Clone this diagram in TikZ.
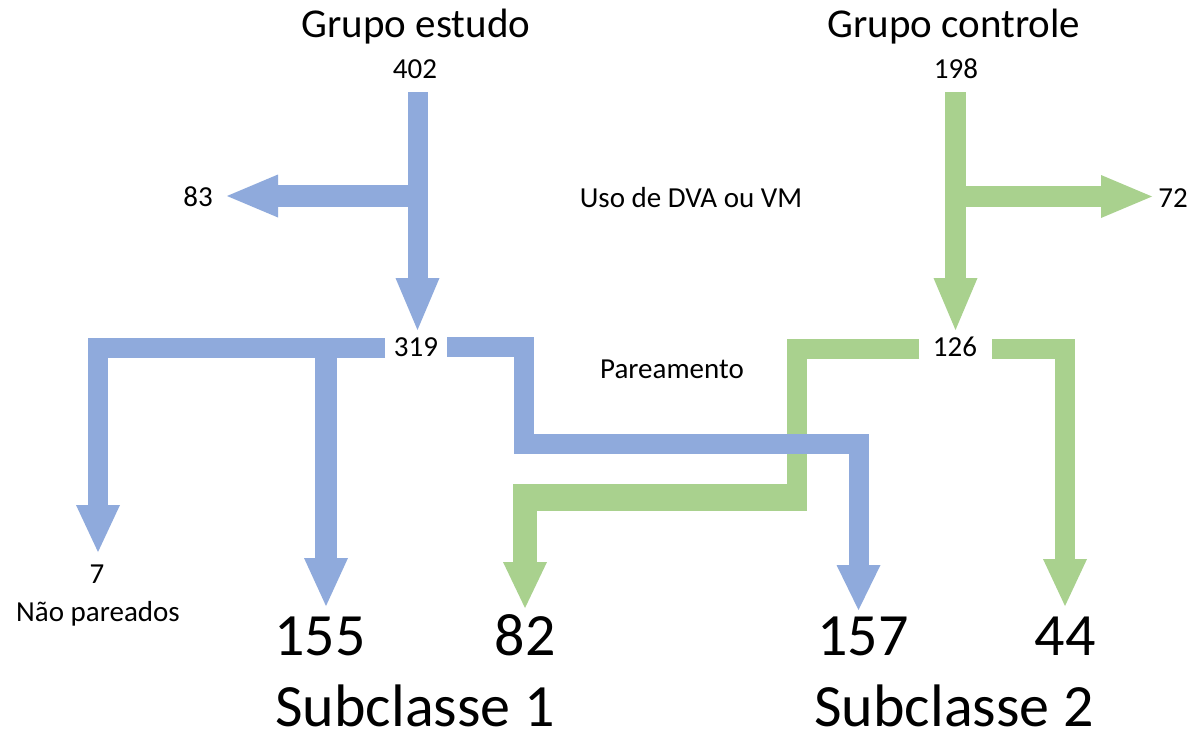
\documentclass[tikz,border=0pt]{standalone}
\usepackage{fontspec}
\setmainfont{Carlito}
\usetikzlibrary{calc}
\definecolor{flowblue}{HTML}{8FAADC}
\definecolor{flowgreen}{HTML}{A9D18E}
\tikzset{
  lbl/.style={anchor=base, inner sep=0pt, font=\fontsize{29}{34}\selectfont},
  grouptitle/.style={anchor=base, inner sep=0pt, font=\fontsize{41}{48}\selectfont},
  bignum/.style={anchor=base, inner sep=0pt, font=\fontsize{60}{70}\selectfont},
  shaft/.style={line width=20pt, line cap=butt, line join=miter},
}
% block arrow heads: colour, tip, head length (y axis points down)
\newcommand\flowtipdown[3]{\fill[#1] ($(#2)+(-22,-#3)$) -- (#2) -- ($(#2)+(22,-#3)$) -- cycle;}
\newcommand\flowtipleft[3]{\fill[#1] ($(#2)+(#3,-21.5)$) -- (#2) -- ($(#2)+(#3,21.5)$) -- cycle;}
\newcommand\flowtipright[3]{\fill[#1] ($(#2)+(-#3,-21.5)$) -- (#2) -- ($(#2)+(-#3,21.5)$) -- cycle;}

\begin{document}
\begin{tikzpicture}[x=1pt,y=-1pt]
\fill[white] (0,0) rectangle (1198,736);
\useasboundingbox (0,0) rectangle (1198,736);

% ---------- labels ----------
\node[grouptitle] (grpE) at (416,37) {Grupo estudo};
\node[grouptitle] (grpC) at (954,37) {Grupo controle};
\node[lbl] (n402) at (415,78) {402};
\node[lbl] (n198) at (956,78) {198};
\node[lbl] (n83) at (198,206) {83};
\node[lbl] (n72) at (1173,207) {72};
\node[lbl] (uso) at (691,207) {Uso de DVA ou VM};
\node[lbl] (n319) at (416,356) {319};
\node[lbl] (n126) at (955,356) {126};
\node[lbl] (par) at (672,378) {Pareamento};
\node[lbl] (n7) at (97,583) {7};
\node[lbl] (nao) at (98,621) {Não pareados};
\node[bignum] (n155) at (320,655) {155};
\node[bignum] (n82) at (525,655) {82};
\node[bignum] (n157) at (863,655) {157};
\node[bignum] (n44) at (1065,655) {44};
\node[bignum] (sub1) at (415,726) {Subclasse 1};
\node[bignum] (sub2) at (954,726) {Subclasse 2};

% ---------- control group (green) ----------
\coordinate (gTop) at (955.5,92);
\coordinate (gSplit) at (955.5,196.5);
\coordinate (gTip126) at (955.5,330);
\coordinate (gTip72) at (1152,196.5);
\draw[shaft,flowgreen,line width=21pt] (gTop) -- ($(gTip126)+(0,-50)$);
\draw[shaft,flowgreen,line width=21pt] (gSplit) -- ($(gTip72)+(-49,0)$);
\flowtipdown{flowgreen}{gTip126}{52}
\flowtipright{flowgreen}{gTip72}{51}

\coordinate (gOutL) at (919,348.5);
\coordinate (gB1) at (797,348.5);
\coordinate (gB2) at (797,497.5);
\coordinate (gB3) at (525,497.5);
\coordinate (gTip82) at (525,608);
\draw[shaft,flowgreen] (gOutL) -- (gB1) -- (gB2) -- (gB3) -- ($(gTip82)+(0,-44)$);
\draw[flowgreen,line width=27pt] ($(gB3)+(-12,0)$) -- ($(gB2)+(10,0)$);
\draw[shaft,flowgreen,line width=24pt] (gB3) -- ($(gTip82)+(0,-44)$);
\flowtipdown{flowgreen}{gTip82}{46}

\coordinate (gOutR) at (992,348.5);
\coordinate (gB4) at (1065,348.5);
\coordinate (gTip44) at (1065,606);
\draw[shaft,flowgreen] (gOutR) -- (gB4) -- ($(gTip44)+(0,-45)$);
\flowtipdown{flowgreen}{gTip44}{47}

% ---------- study group (blue) ----------
\coordinate (bTop) at (417.5,92);
\coordinate (bSplit) at (417.5,196);
\coordinate (bTip319) at (417.5,330);
\coordinate (bTip83) at (227,196);
\draw[shaft,flowblue] (bTop) -- ($(bTip319)+(0,-50)$);
\draw[shaft,flowblue,line width=22pt] (bSplit) -- ($(bTip83)+(49,0)$);
\flowtipdown{flowblue}{bTip319}{52}
\flowtipleft{flowblue}{bTip83}{51}

\coordinate (bRowR) at (385,348);
\coordinate (bRowL) at (98,348);
\coordinate (bTip7) at (98,552);
\coordinate (bMid) at (326,348);
\coordinate (bTip155) at (326,606);
\draw[shaft,flowblue] (bRowR) -- (bRowL) -- ($(bTip7)+(0,-45)$);
\draw[shaft,flowblue,line width=22pt] (bMid) -- ($(bTip155)+(0,-46)$);
\flowtipdown{flowblue}{bTip7}{47}
\flowtipdown{flowblue}{bTip155}{48}

\coordinate (bOut) at (447,347);
\coordinate (bB1) at (523.5,347);
\coordinate (bB2) at (523.5,444);
\coordinate (bB3) at (858.5,444);
\coordinate (bTip157) at (858.5,610);
\draw[shaft,flowblue] (bOut) -- (bB1) -- (bB2) -- (bB3) -- ($(bTip157)+(0,-43)$);
\flowtipdown{flowblue}{bTip157}{45}
\end{tikzpicture}
\end{document}
